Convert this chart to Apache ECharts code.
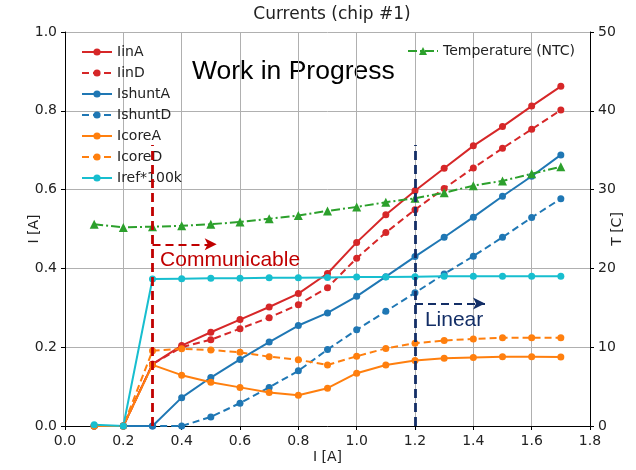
<!DOCTYPE html>
<html><head><meta charset="utf-8">
<script src="https://cdn.jsdelivr.net/npm/echarts@6/dist/echarts.min.js"></script>
<style>html,body{margin:0;padding:0;background:#fff}#c{width:636px;height:470px}</style>
</head><body><div id="c"></div>
<script>
const xs = [0.1,0.2,0.3,0.4,0.5,0.6,0.7,0.8,0.9,1.0,1.1,1.2,1.3,1.4,1.5,1.6,1.7];
const iinA    = [0,0,0.157,0.204,0.238,0.270,0.302,0.336,0.387,0.466,0.536,0.597,0.654,0.711,0.760,0.812,0.862];
const iinD    = [0,0,0.157,0.200,0.219,0.247,0.275,0.308,0.351,0.426,0.491,0.549,0.603,0.655,0.705,0.753,0.802];
const ishuntA = [0,0,0,0.072,0.123,0.169,0.213,0.255,0.287,0.329,0.379,0.430,0.479,0.530,0.583,0.634,0.688];
const ishuntD = [0,0,0,0,0.023,0.058,0.098,0.140,0.194,0.244,0.291,0.338,0.386,0.431,0.479,0.529,0.577];
const icoreA  = [0,0,0.155,0.129,0.111,0.098,0.085,0.078,0.096,0.134,0.155,0.166,0.172,0.174,0.176,0.176,0.175];
const icoreD  = [0,0,0.191,0.196,0.193,0.187,0.176,0.168,0.155,0.177,0.197,0.210,0.217,0.221,0.224,0.224,0.224];
const iref    = [0.003,0.0,0.373,0.374,0.375,0.375,0.376,0.376,0.377,0.378,0.378,0.379,0.380,0.380,0.380,0.380,0.380];
const tempNTC = [25.6,25.2,25.3,25.4,25.6,25.9,26.3,26.7,27.3,27.8,28.4,28.9,29.6,30.5,31.1,32.0,32.9];
// annotations (data coordinates)
const commX = 0.3, commTop = 0.713, commArrowY = 0.461, commArrowEnd = 0.52;
const linX = 1.2, linTop = 0.713, linArrowY = 0.311, linArrowEnd = 1.44;
const commLabel = [0.326, 0.421], linLabel = [1.234, 0.269];

const pairs = v => xs.map((x,i)=>[x,v[i]]);
const FONT = 'DejaVu Sans';
const RED='#d62728', BLUE='#1f77b4', ORANGE='#ff7f0e', CYAN='#17becf', GREEN='#2ca02c';
const DARKRED='#c00000', NAVY='#132e66';

function ls(name,color,data,dashed,yIdx,sym){
  return {name,type:'line',data:pairs(data),yAxisIndex:yIdx||0,
    symbol:sym||'circle',symbolSize:sym?9:7,showSymbol:true,
    itemStyle:{color},lineStyle:{color,width:2,type:dashed||'solid'},
    emphasis:{disabled:true},z:2};
}
const series = [
  ls('IinA',RED,iinA),
  ls('IinD',RED,iinD,[7,4]),
  ls('IshuntA',BLUE,ishuntA),
  ls('IshuntD',BLUE,ishuntD,[7,4]),
  ls('IcoreA',ORANGE,icoreA),
  ls('IcoreD',ORANGE,icoreD,[7,4]),
  ls('Iref*100k',CYAN,iref),
  ls('Temperature (NTC)',GREEN,tempNTC,[9,3,2,3],1,'triangle'),
  {type:'line',data:[],silent:true,
   markLine:{silent:true,symbol:['none','none'],animation:false,label:{show:false},
     data:[
      [{coord:[commX,0],lineStyle:{color:DARKRED,width:2.8,type:[9,5]}},{coord:[commX,commTop]}],
      [{coord:[linX,0],lineStyle:{color:NAVY,width:2.8,type:[9,5]}},{coord:[linX,linTop]}]
     ]}},
  {type:'line',data:[],silent:true,
   markLine:{silent:true,symbol:['none','arrow'],symbolSize:[9,12],animation:false,label:{show:false},
     data:[
      [{coord:[commX,commArrowY],lineStyle:{color:DARKRED,width:2.2,type:[8,5]}},{coord:[commArrowEnd,commArrowY]}],
      [{coord:[linX,linArrowY],lineStyle:{color:NAVY,width:2.2,type:[8,5]}},{coord:[linArrowEnd,linArrowY]}]
     ]}},
  {type:'scatter',silent:true,symbolSize:0,itemStyle:{opacity:1},data:[
     {value:commLabel,label:{show:true,formatter:'Communicable',position:'right',distance:0,color:DARKRED,fontSize:21,fontFamily:'Liberation Sans'}},
     {value:linLabel,label:{show:true,formatter:'Linear',position:'right',distance:0,color:NAVY,fontSize:21,fontFamily:'Liberation Sans'}}
  ]}
];

const chart = echarts.init(document.getElementById('c'),null,{renderer:'canvas'});
const axisCommon = {
  nameMoveOverlap:false,
  axisLine:{show:true,lineStyle:{color:'#000',width:1}},
  axisTick:{show:true,inside:false,length:4,lineStyle:{color:'#000'}},
  axisLabel:{color:'#222',fontSize:14,fontFamily:FONT},
  nameTextStyle:{color:'#222',fontSize:14,fontFamily:FONT}
};
chart.setOption({
  animation:false,
  title:{text:'Currents (chip #1)',left:327,textAlign:'center',top:1,
    textStyle:{fontFamily:FONT,fontSize:17,fontWeight:'normal',color:'#222'}},
  grid:{left:65,right:46,top:32,bottom:44,containLabel:false,outerBoundsMode:'none'},
  legend:[
    {data:['IinA','IinD','IshuntA','IshuntD','IcoreA','IcoreD','Iref*100k'],
     orient:'vertical',left:76,top:40,itemWidth:30,itemHeight:9,itemGap:7,
     textStyle:{fontFamily:FONT,fontSize:14,color:'#222'},selectedMode:false},
    {data:['Temperature (NTC)'],left:402,top:39,itemWidth:30,itemHeight:10,
     textStyle:{fontFamily:FONT,fontSize:14,color:'#222'},selectedMode:false}
  ],
  graphic:[{type:'text',left:192,top:58,style:{text:'Work in Progress',fontSize:26.5,fontFamily:'Liberation Sans',fill:'#000'}}],
  xAxis:Object.assign({type:'value',min:0,max:1.8,interval:0.2,name:'I [A]',nameLocation:'middle',nameGap:24,
    splitLine:{show:true,lineStyle:{color:'#b0b0b0',width:1}}},axisCommon,
    {axisLabel:Object.assign({},axisCommon.axisLabel,{formatter:v=>v.toFixed(1)})}),
  yAxis:[
    Object.assign({type:'value',min:0,max:1,interval:0.2,name:'I [A]',nameLocation:'middle',nameGap:24,
      splitLine:{show:true,lineStyle:{color:'#b0b0b0',width:1}}},axisCommon,
      {axisLabel:Object.assign({},axisCommon.axisLabel,{formatter:v=>v.toFixed(1)})}),
    Object.assign({type:'value',min:0,max:50,interval:10,name:'T [C]',nameLocation:'middle',nameGap:20,position:'right',
      splitLine:{show:false}},axisCommon)
  ],
  series
});
</script></body></html>
